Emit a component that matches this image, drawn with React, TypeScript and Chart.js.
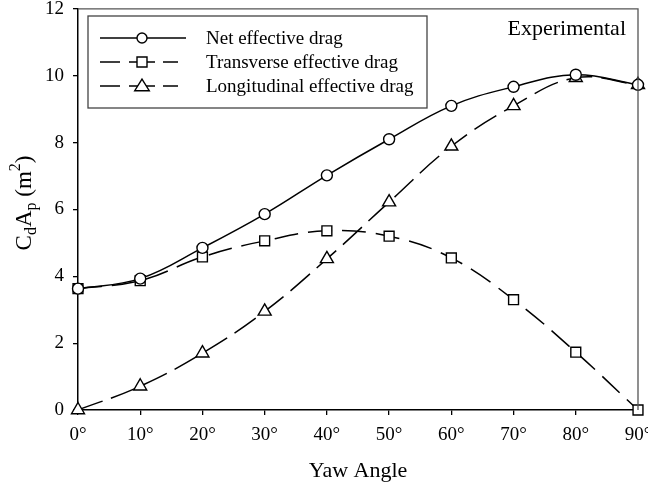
import React, { useEffect, useRef } from "react";
import { Chart, registerables } from "chart.js";

Chart.register(...registerables);

const angles = [0, 10, 20, 30, 40, 50, 60, 70, 80, 90];
const netDrag = [3.63, 3.93, 4.85, 5.86, 7.02, 8.1, 9.1, 9.67, 10.03, 9.73];
const transverseDrag = [3.63, 3.87, 4.58, 5.06, 5.36, 5.2, 4.55, 3.3, 1.73, 0];
const longitudinalDrag = [0, 0.71, 1.7, 2.95, 4.52, 6.22, 7.89, 9.1, 9.94, 9.73];
const yTicks = [0, 2, 4, 6, 8, 10, 12];
const seriesNames = ["Net effective drag", "Transverse effective drag", "Longitudinal effective drag"];
const annotation = "Experimental";
const xTitle = "Yaw Angle";

const FONT = "'Liberation Serif', 'Times New Roman', serif";

const toPts = (vals: number[]) => vals.map((v, i) => ({ x: angles[i], y: v }));

function drawMarker(ctx: CanvasRenderingContext2D, style: string, x: number, y: number, r: number) {
  ctx.beginPath();
  if (style === "circle") {
    ctx.arc(x, y, r, 0, Math.PI * 2);
  } else if (style === "rect") {
    ctx.rect(x - r, y - r, 2 * r, 2 * r);
  } else {
    const h = r * 1.15;
    ctx.moveTo(x, y - h * 1.1);
    ctx.lineTo(x + h * 1.15, y + h * 0.75);
    ctx.lineTo(x - h * 1.15, y + h * 0.75);
    ctx.closePath();
  }
  ctx.fillStyle = "#fff";
  ctx.fill();
  ctx.lineWidth = 1.4;
  ctx.strokeStyle = "#000";
  ctx.stroke();
}

const decorPlugin = {
  id: "decor",
  afterDraw(chart: any) {
    const ctx: CanvasRenderingContext2D = chart.ctx;
    const a = chart.chartArea;
    ctx.save();
    // top & right frame
    ctx.strokeStyle = "#555";
    ctx.lineWidth = 1.3;
    ctx.beginPath();
    ctx.moveTo(a.left, a.top);
    ctx.lineTo(a.right, a.top);
    ctx.lineTo(a.right, a.bottom);
    ctx.stroke();

    // legend box
    const bx = 88, by = 16, bw = 339, bh = 92;
    ctx.strokeStyle = "#444";
    ctx.lineWidth = 1.3;
    ctx.strokeRect(bx, by, bw, bh);
    const rows = [38, 62, 86];
    chart.data.datasets.forEach((ds: any, i: number) => {
      const y = rows[i];
      ctx.strokeStyle = "#000";
      ctx.lineWidth = 1.5;
      ctx.beginPath();
      if (ds.borderDash && ds.borderDash.length) {
        ctx.moveTo(100, y); ctx.lineTo(120, y);
        ctx.moveTo(129, y); ctx.lineTo(155, y);
        ctx.moveTo(163, y); ctx.lineTo(178, y);
      } else {
        ctx.moveTo(100, y); ctx.lineTo(186, y);
      }
      ctx.stroke();
      drawMarker(ctx, ds.pointStyle, 142, y, ds.pointStyle === "triangle" ? 5.5 : 5);
      ctx.fillStyle = "#000";
      ctx.font = `19px ${FONT}`;
      ctx.textAlign = "left";
      ctx.textBaseline = "middle";
      ctx.fillText(ds.label, 206, y + 1);
    });

    // annotation
    ctx.font = `22px ${FONT}`;
    ctx.textAlign = "right";
    ctx.textBaseline = "middle";
    ctx.fillText(annotation, 626, 29);

    // y title: C_d A_p (m^2)
    ctx.translate(25, 203);
    ctx.rotate(-Math.PI / 2);
    const big = `23px ${FONT}`;
    const small = `16px ${FONT}`;
    const parts: [string, string, number][] = [
      ["C", big, 0], ["d", small, 7], ["A", big, 0], ["p", small, 7], [" (m", big, 0], ["2", small, -9], [")", big, 0],
    ];
    let total = 0;
    parts.forEach(([t, f]) => { ctx.font = f; total += ctx.measureText(t).width; });
    let x = -total / 2;
    ctx.textAlign = "left";
    ctx.textBaseline = "middle";
    parts.forEach(([t, f, dy]) => {
      ctx.font = f;
      ctx.fillText(t, x, dy);
      x += ctx.measureText(t).width;
    });
    ctx.restore();
  },
};

export default function App() {
  const ref = useRef<HTMLCanvasElement>(null);
  useEffect(() => {
    if (!ref.current) return;
    const common = {
      borderColor: "#000",
      borderWidth: 1.5,
      pointBackgroundColor: "#fff",
      pointBorderColor: "#000",
      pointBorderWidth: 1.4,
      tension: 0.4,
      clip: false as any,
      fill: false,
    };
    const chart = new Chart(ref.current, {
      type: "line",
      data: {
        datasets: [
          { ...common, label: seriesNames[0], data: toPts(netDrag), pointStyle: "circle", pointRadius: 5.5 },
          { ...common, label: seriesNames[1], data: toPts(transverseDrag), borderDash: [24, 10], pointStyle: "rect", pointRadius: 7 },
          { ...common, label: seriesNames[2], data: toPts(longitudinalDrag), borderDash: [26, 9], pointStyle: "triangle", pointRadius: 7.5 },
        ] as any,
      },
      options: {
        responsive: false,
        animation: false,
        layout: { padding: { top: 7, right: 10, left: 0, bottom: 0 } },
        plugins: { legend: { display: false }, tooltip: { enabled: false } },
        scales: {
          x: {
            type: "linear",
            min: 0,
            max: 90,
            afterFit: (s: any) => { s.height = 78; s.paddingLeft = 0; s.paddingRight = 0; },
            ticks: { stepSize: 10, color: "#000", font: { family: FONT, size: 19 }, padding: 9, maxRotation: 0, callback: (v: any) => `${v}°` },
            grid: { drawOnChartArea: false, drawTicks: true, tickLength: 5, color: "#000", lineWidth: 1.3 },
            border: { color: "#000", width: 1.5 },
            title: { display: true, text: xTitle, color: "#000", font: { family: FONT, size: 22 }, padding: { top: 12 } },
          },
          y: {
            min: 0,
            max: 12,
            afterFit: (s: any) => { s.width = 78; s.paddingTop = 0; s.paddingBottom = 0; },
            afterBuildTicks: (s: any) => { s.ticks = yTicks.map((v) => ({ value: v })); },
            ticks: { color: "#000", font: { family: FONT, size: 19 }, padding: 9 },
            grid: { drawOnChartArea: false, drawTicks: true, tickLength: 5, color: "#000", lineWidth: 1.3 },
            border: { color: "#000", width: 1.5 },
          },
        },
      },
      plugins: [decorPlugin],
    });
    return () => chart.destroy();
  }, []);
  return (
    <div style={{ position: "fixed", left: 0, top: 0, width: 648, height: 488, background: "#fff" }}>
      <canvas ref={ref} width={648} height={488} />
    </div>
  );
}
